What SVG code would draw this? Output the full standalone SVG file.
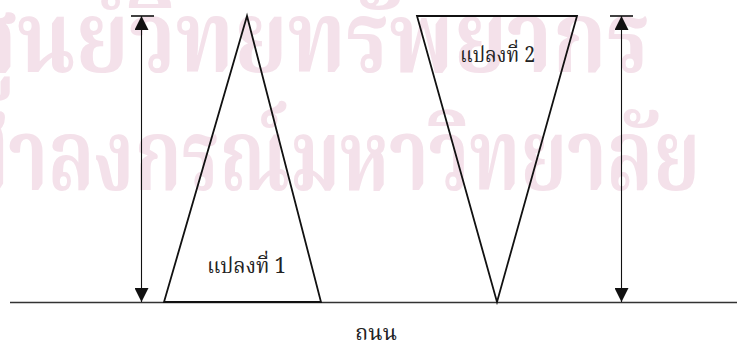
<svg xmlns="http://www.w3.org/2000/svg" width="737" height="363" viewBox="0 0 737 363">
<style>
.wm{font-family:"Noto Serif Thai","Noto Sans Thai",serif;font-weight:bold;font-size:100px;fill:#f4e1ea}
.shape{fill:none;stroke:#111;stroke-width:1.8;stroke-linejoin:miter}
.dim{stroke:#111;stroke-width:1.1;fill:none}
.tick{stroke:#111;stroke-width:1.6}
.ground{stroke:#333;stroke-width:1.6}
.lbl{font-family:"Noto Serif Thai","Liberation Serif","Noto Sans Thai",serif;font-size:21px;fill:#222}
</style>
<defs>
<marker id="ah" viewBox="0 0 14 14" refX="14" refY="7" markerWidth="14" markerHeight="14" markerUnits="userSpaceOnUse" orient="auto">
<path d="M0,0 L14,7 L0,14 Z" fill="#111"/>
</marker>
</defs>
<rect width="737" height="363" fill="#fff"/>
<g id="watermark">
<text class="wm" x="-40" y="72" textLength="690" lengthAdjust="spacingAndGlyphs">ศูนย์วิทยทรัพยากร</text>
<text class="wm" x="-92" y="190" textLength="792" lengthAdjust="spacingAndGlyphs">จุฬาลงกรณ์มหาวิทยาลัย</text>
</g>
<g id="connectors">
<line id="ground" class="ground" x1="10" y1="302.5" x2="737" y2="302.5"/>
<line class="tick" x1="131" y1="16" x2="154" y2="16"/>
<line class="dim" x1="141.5" y1="159" x2="141.5" y2="16" marker-end="url(#ah)"/>
<line class="dim" x1="141.5" y1="159" x2="141.5" y2="302" marker-end="url(#ah)"/>
<line class="tick" x1="610" y1="16" x2="633" y2="16"/>
<line class="dim" x1="621.5" y1="159" x2="621.5" y2="16" marker-end="url(#ah)"/>
<line class="dim" x1="621.5" y1="159" x2="621.5" y2="302" marker-end="url(#ah)"/>
</g>
<g id="plot1">
<polygon class="shape" points="247,16 164,302 321,302"/>
<text class="lbl" x="207" y="273" textLength="79" lengthAdjust="spacingAndGlyphs">แปลงที่ 1</text>
</g>
<g id="plot2">
<polygon class="shape" points="417,16 577,16 497,302"/>
<text class="lbl" x="460" y="62" textLength="75" lengthAdjust="spacingAndGlyphs">แปลงที่ 2</text>
</g>
<g id="road">
<text class="lbl" x="355" y="340" textLength="42" lengthAdjust="spacingAndGlyphs">ถนน</text>
</g>
</svg>
